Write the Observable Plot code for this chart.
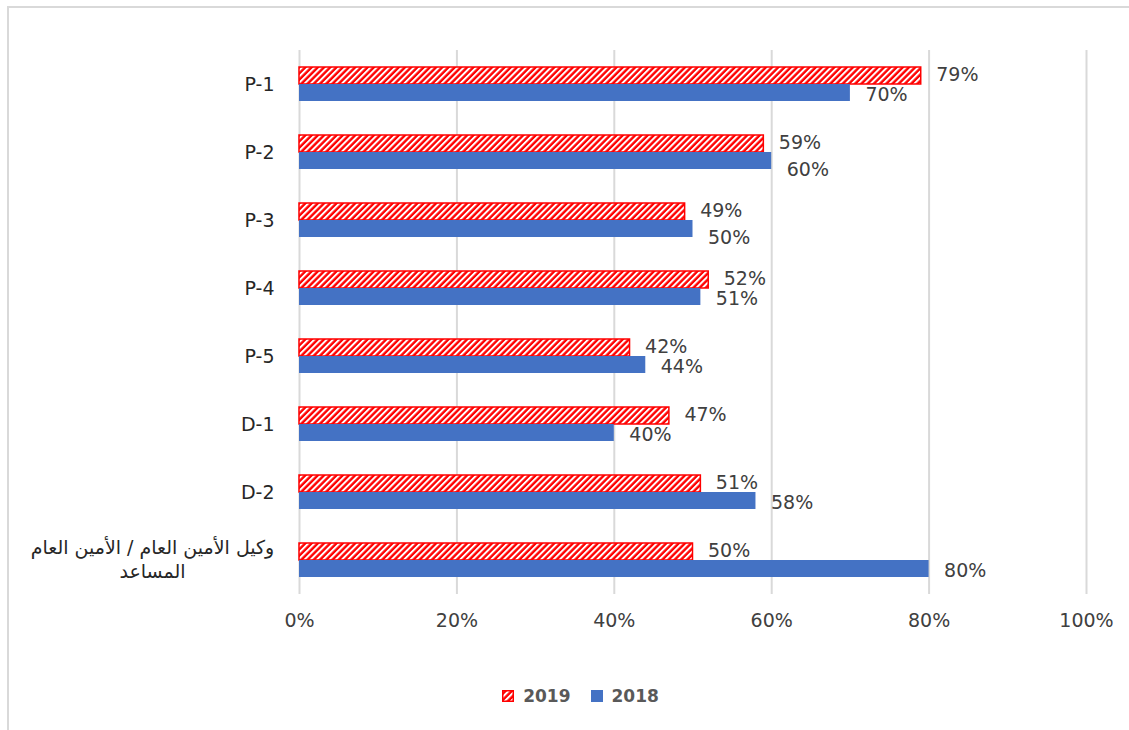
<!DOCTYPE html>
<html>
<head>
<meta charset="utf-8">
<script src="https://cdn.jsdelivr.net/npm/d3@7"></script>
<script src="https://cdn.jsdelivr.net/npm/@observablehq/plot@0.6"></script>
<style>
  body { margin: 0; background: #fff; font-family: 'DejaVu Sans', sans-serif; }
  #wrap { position: relative; width: 1129px; height: 730px; overflow: hidden; background: #fff; }
  #border { position: absolute; left: 7px; top: 6px; right: -10px; bottom: -10px;
            border-top: 2px solid #d9d9d9; border-left: 2px solid #d9d9d9; }
  #chart { position: absolute; left: 0; top: 0; }
  #legend { position: absolute; top: 686px; left: 16px; width: 1129px; display: flex;
            justify-content: center; align-items: center; gap: 20px;
            font-weight: bold; font-size: 17px; color: #595959; }
  .item { display: flex; align-items: center; gap: 9px; }
</style>
</head>
<body>
<svg width="0" height="0" style="position:absolute">
  <defs>
    <pattern id="hatch" patternUnits="userSpaceOnUse" width="4.4" height="4.4" patternTransform="rotate(45)">
      <rect width="4.4" height="4.4" fill="#ff0000"></rect>
      <rect width="2" height="4.4" fill="#ffffff"></rect>
    </pattern>
  </defs>
</svg>
<div id="wrap">
  <div id="border"></div>
  <div id="chart"></div>
  <div id="legend"></div>
</div>
<script>
const categories = ["P-1", "P-2", "P-3", "P-4", "P-5", "D-1", "D-2", "وكيل الأمين العام / الأمين العام\nالمساعد"];
const series = ["2019", "2018"];
const values2019 = [0.79, 0.59, 0.49, 0.52, 0.42, 0.47, 0.51, 0.50];
const values2018 = [0.70, 0.60, 0.50, 0.51, 0.44, 0.40, 0.58, 0.80];
const xTicks = [0, 0.2, 0.4, 0.6, 0.8, 1];

const rows = categories.flatMap((c, i) => [
  {category: c, year: "2019", value: values2019[i], other: values2018[i]},
  {category: c, year: "2018", value: values2018[i], other: values2019[i]}
]);
const pct = d3.format(".0%");
const font = "'DejaVu Sans', sans-serif";
// labels of 2018 bars that would collide with the 2019 label just above are nudged down (as in the original)
const nudged = d => d.year === "2018" && d.value - d.other >= 0 && d.value - d.other < 0.015;

const chart = Plot.plot({
  width: 1129,
  height: 640,
  marginLeft: 299,
  marginRight: 43,
  marginTop: 49,
  marginBottom: 46,
  style: {fontFamily: font, fontSize: "19px", color: "#404040", background: "transparent"},
  x: {domain: [0, 1]},
  y: {domain: series, paddingInner: 0, paddingOuter: 0.89, axis: null},
  fy: {domain: categories, padding: 0, axis: null},
  marks: [
    Plot.gridX(xTicks, {stroke: "#d9d9d9", strokeOpacity: 1, strokeWidth: 2}),
    Plot.axisX(xTicks, {tickFormat: pct, tickSize: 0, tickPadding: 19, fontSize: 19, fill: "#404040", label: null}),
    Plot.barX(rows.filter(d => d.year === "2019"), {x: "value", y: "year", fy: "category", fill: "url(#hatch)", stroke: "#ff0000", strokeWidth: 1.5}),
    Plot.barX(rows.filter(d => d.year === "2018"), {x: "value", y: "year", fy: "category", fill: "#4472c4"}),
    Plot.text(rows.filter(d => d.year === "2019"), {x: "value", y: "year", fy: "category", text: d => pct(d.value), textAnchor: "start", dx: 15, dy: -1, fill: "#404040", fontSize: 19}),
    Plot.text(rows.filter(d => d.year === "2018" && !nudged(d)), {x: "value", y: "year", fy: "category", text: d => pct(d.value), textAnchor: "start", dx: 15, dy: 2, fill: "#404040", fontSize: 19}),
    Plot.text(rows.filter(nudged), {x: "value", y: "year", fy: "category", text: d => pct(d.value), textAnchor: "start", dx: 15, dy: 9, fill: "#404040", fontSize: 19}),
    Plot.text(categories.filter(c => !c.includes("\n")), {fy: d => d, text: d => d, frameAnchor: "left", textAnchor: "end", dx: -25, fill: "#262626", fontSize: 19}),
    Plot.text(categories.filter(c => c.includes("\n")), {fy: d => d, text: d => d, frameAnchor: "left", textAnchor: "middle", dx: -147, dy: -2, lineHeight: 1.25, fill: "#262626", fontSize: 19})
  ]
});
document.getElementById("chart").appendChild(chart);

const legend = document.getElementById("legend");
const swatches = {"2019": '<rect x="0.75" y="0.75" width="10.5" height="10.5" fill="url(#hatch)" stroke="#ff0000" stroke-width="1.5"></rect>',
                  "2018": '<rect width="12" height="12" fill="#4472c4"></rect>'};
series.forEach(s => {
  const item = document.createElement("div");
  item.className = "item";
  item.innerHTML = `<svg width="12" height="12">${swatches[s]}</svg><span>${s}</span>`;
  legend.appendChild(item);
});
</script>
</body>
</html>
